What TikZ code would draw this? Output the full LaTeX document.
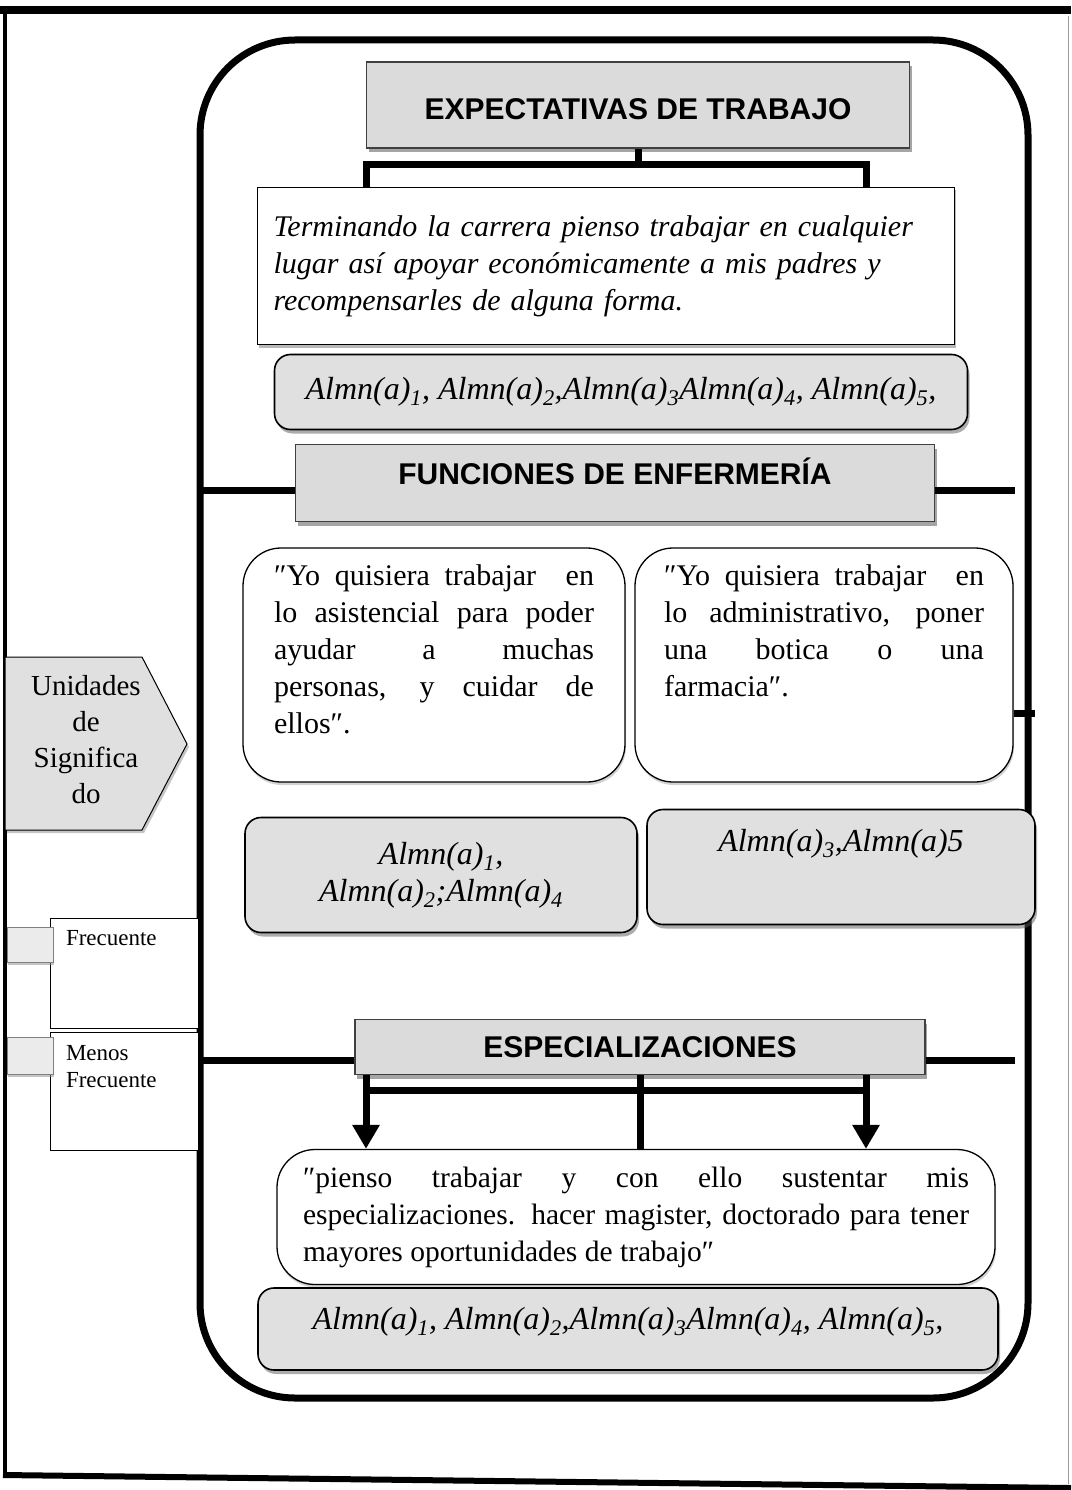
\documentclass[tikz,border=0pt]{standalone}
\usepackage{fontspec}
\setmainfont{Liberation Serif}
\setsansfont{Liberation Sans}
\usetikzlibrary{positioning,shapes,shadows,arrows.meta}

\newcommand{\quotefont}{\fontsize{30pt}{37pt}\selectfont}
\newcommand{\titlefont}{\sffamily\bfseries\fontsize{30pt}{36pt}\selectfont}
\newcommand{\almnfont}{\itshape\fontsize{32pt}{33pt}\selectfont}
\newcommand{\legfont}{\fontsize{23pt}{27pt}\selectfont}
\newcommand{\almn}[1]{Almn(a)\textsubscript{#1}}
\newcommand{\topbox}[3]{\parbox[c][#1][t]{#2}{#3}}
\newcommand{\lift}[2]{\raisebox{#1}[\height][\depth]{#2}}

\begin{document}
\begin{tikzpicture}[x=1pt, y=-1pt,
    conn/.style={line width=7pt},
    titlebox/.style={draw=black!75, line width=1.2pt, fill=black!14, font=\titlefont,
        drop shadow={shadow xshift=2pt, shadow yshift=-4pt, fill=black!70}},
    txtbox/.style={draw, line width=0.8pt, fill=white,
        drop shadow={shadow xshift=1pt, shadow yshift=-3pt, fill=black!55}},
    quotebox/.style={draw, line width=1.3pt, rounded corners=38pt, fill=white, font=\quotefont,
        drop shadow={shadow xshift=1pt, shadow yshift=-3pt, fill=black!35}},
    almnbox/.style={draw, line width=1.6pt, rounded corners=16pt, fill=black!12, font=\almnfont,
        drop shadow={shadow xshift=2pt, shadow yshift=-4pt, fill=black!65}},
    patch/.style={draw=black!50, line width=0.6pt, fill=black!8,
        drop shadow={shadow xshift=1pt, shadow yshift=-2pt, fill=black!45}},
    legbox/.style={draw, line width=1pt, fill=white, font=\legfont}]
\useasboundingbox (0,0) rectangle (1071,1490);

% page frame
\draw[line width=8pt] (0,10) -- (1071,10);
\draw[line width=4pt] (5,10) -- (5,1476);
\draw[line width=6pt] (3,1475) -- (1071,1488);
\draw[line width=1pt, black!40] (1068,16) -- (1068,1484);

\node[draw, line width=7pt, rounded corners=95pt, minimum width=828pt, minimum height=1358pt] (frame) at (614,719) {};

% expectativas
\node[titlebox, minimum width=543pt, minimum height=86pt] (exp) at (638,105) {\lift{-4pt}{EXPECTATIVAS DE TRABAJO}};
\node[txtbox, minimum width=697pt, minimum height=157pt, text width=665pt, align=left,
    font=\itshape\fontsize{30pt}{37pt}\selectfont] (txt1) at (606,266)
    {Terminando la carrera pienso trabajar en cualquier\\lugar así apoyar económicamente a mis padres y\\recompensarles de alguna forma.};
\node[almnbox, minimum width=693pt, minimum height=75pt] (alm1) at (621,392)
    {\almn{1}, \almn{2},\almn{3}\almn{4}, \almn{5},};

\coordinate (tl) at (366,165);
\coordinate (tr) at (866,165);
\draw[conn] (exp.south) -- (exp.south |- tl);
\draw[conn] (tl |- txt1.north) -- (tl) -- (tr) -- (tr |- txt1.north);

% funciones
\node[titlebox, minimum width=639pt, minimum height=77pt] (fun) at (615,483) {\lift{12pt}{FUNCIONES DE ENFERMERÍA}};
\node[quotebox, minimum width=382pt, minimum height=234pt] (q1) at (434,665)
    {\topbox{200pt}{320pt}{″Yo quisiera trabajar\ \ en\linebreak lo asistencial para poder\linebreak ayudar a muchas\linebreak personas, y cuidar de\linebreak ellos″.}};
\node[quotebox, minimum width=378pt, minimum height=234pt] (q2) at (824,665)
    {\topbox{200pt}{320pt}{″Yo quisiera trabajar\ \ en\linebreak lo administrativo, poner\linebreak una botica o una\linebreak farmacia″.}};
\node[almnbox, minimum width=392pt, minimum height=115pt, align=center] (alm2) at (441,875)
    {\almn{1},\\[4pt]\almn{2};\almn{4}};
\node[almnbox, minimum width=388pt, minimum height=115pt] (alm3) at (841,867)
    {\topbox{76pt}{360pt}{\centering\almn{3},Almn(a)5}};

\coordinate (fl) at (0,490);
\coordinate (rend) at (1015,0);
\draw[conn] (frame.west |- fl) -- (fun.west |- fl);
\draw[conn] (fun.east |- fl) -- (rend |- fl);
\coordinate (stub) at (0,713);
\draw[conn] (q2.east |- stub) -- ([xshift=3pt]frame.east |- stub);

% especializaciones
\node[titlebox, minimum width=570pt, minimum height=55pt] (esp) at (640,1047) {ESPECIALIZACIONES};
\node[quotebox, minimum width=718pt, minimum height=135pt] (q3) at (636,1217)
    {\parbox{666pt}{\fontsize{29.5pt}{37pt}\selectfont ″pienso trabajar y con ello sustentar mis\linebreak especializaciones. hacer magister, doctorado para tener\linebreak mayores oportunidades de trabajo″}};
\node[almnbox, minimum width=740pt, minimum height=82pt] (alm4) at (628,1329)
    {\lift{7pt}{\almn{1}, \almn{2},\almn{3}\almn{4}, \almn{5},}};

\coordinate (el) at (0,1060);
\draw[conn] (frame.west |- el) -- (esp.west |- el);
\draw[conn] (esp.east |- el) -- (rend |- el);

\coordinate (bl) at (366,1090);
\coordinate (br) at (866,1090);
\draw[conn] (bl) -- (br);
\draw[conn, -{Triangle[length=24pt,width=26pt]}] (esp.south -| bl) -- (q3.north -| bl);
\draw[conn, -{Triangle[length=24pt,width=26pt]}] (esp.south -| br) -- (q3.north -| br);
\draw[conn] (esp.south) -- (q3.north -| esp.south);

% leyenda
\draw[line width=1pt, fill=black!12, drop shadow={shadow xshift=2pt, shadow yshift=-3pt, fill=black!45}]
    (5,657) -- (142,657) -- (187,744) -- (142,830) -- (5,830) -- cycle;
\node[align=center, font=\fontsize{29pt}{36pt}\selectfont] (unid) at (86,740) {Unidades\\de\\Significa\\do};
\node[legbox, minimum width=148pt, minimum height=110pt] (lf) at (124,973) {\topbox{86pt}{116pt}{Frecuente}};
\node[legbox, minimum width=148pt, minimum height=118pt] (lm) at (124,1091) {\topbox{92pt}{116pt}{Menos\\Frecuente}};
\node[patch, minimum width=46pt, minimum height=35pt] (pf) at (30,945) {};
\node[patch, minimum width=46pt, minimum height=37pt] (pm) at (30,1056) {};
\end{tikzpicture}
\end{document}
